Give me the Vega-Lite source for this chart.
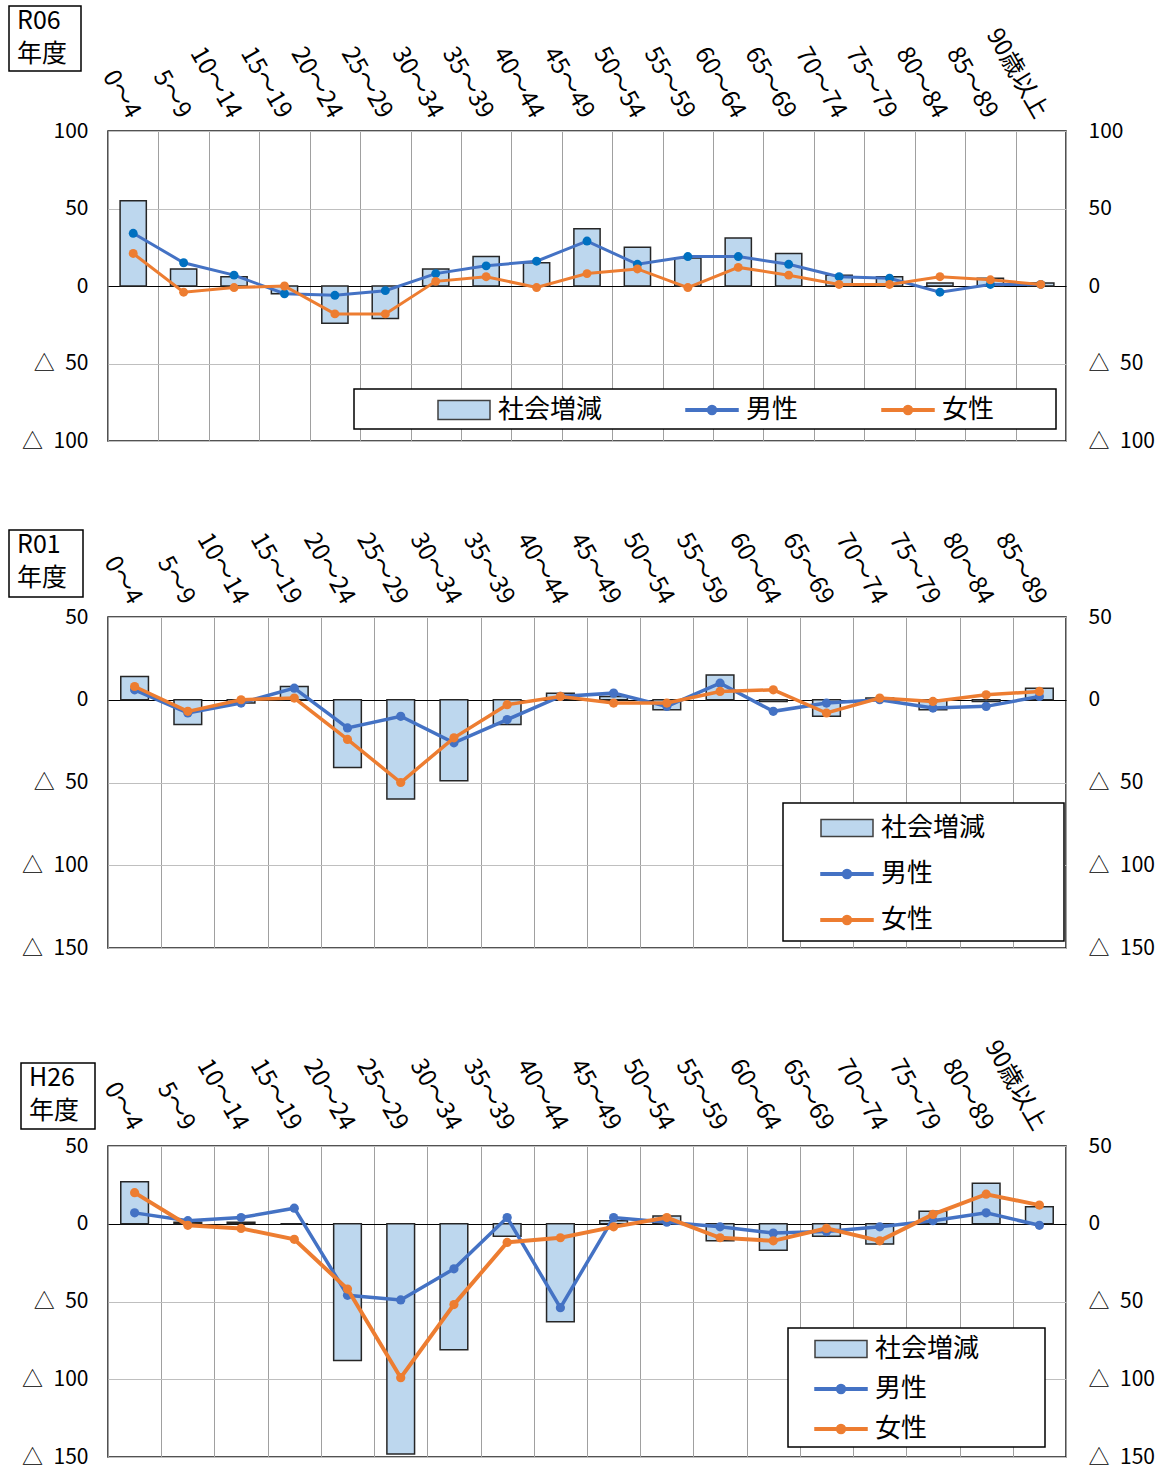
{
  "$schema": "https://vega.github.io/schema/vega-lite/v6.json",
  "padding": {"left": 8, "top": 5, "right": 8, "bottom": 2},
  "background": "white",
  "config": {
    "font": "Noto Sans CJK JP",
    "view": {"stroke": "#1a1a1a", "strokeWidth": 1.5},
    "axis": {"labelColor": "#000", "labelFontSize": 21, "ticks": false, "domain": false, "title": null},
    "legend": {"labelColor": "#000", "labelFontSize": 26, "titleColor": "#000", "titleFontWeight": "normal"}
  },
  "data": {"values": [
    {"panel": "R06", "age": "0～4", "total": 55, "male": 34, "female": 21},
    {"panel": "R06", "age": "5～9", "total": 11, "male": 15, "female": -4},
    {"panel": "R06", "age": "10～14", "total": 6, "male": 7, "female": -1},
    {"panel": "R06", "age": "15～19", "total": -5, "male": -5, "female": 0},
    {"panel": "R06", "age": "20～24", "total": -24, "male": -6, "female": -18},
    {"panel": "R06", "age": "25～29", "total": -21, "male": -3, "female": -18},
    {"panel": "R06", "age": "30～34", "total": 11, "male": 8, "female": 3},
    {"panel": "R06", "age": "35～39", "total": 19, "male": 13, "female": 6},
    {"panel": "R06", "age": "40～44", "total": 15, "male": 16, "female": -1},
    {"panel": "R06", "age": "45～49", "total": 37, "male": 29, "female": 8},
    {"panel": "R06", "age": "50～54", "total": 25, "male": 14, "female": 11},
    {"panel": "R06", "age": "55～59", "total": 18, "male": 19, "female": -1},
    {"panel": "R06", "age": "60～64", "total": 31, "male": 19, "female": 12},
    {"panel": "R06", "age": "65～69", "total": 21, "male": 14, "female": 7},
    {"panel": "R06", "age": "70～74", "total": 7, "male": 6, "female": 1},
    {"panel": "R06", "age": "75～79", "total": 6, "male": 5, "female": 1},
    {"panel": "R06", "age": "80～84", "total": 2, "male": -4, "female": 6},
    {"panel": "R06", "age": "85～89", "total": 5, "male": 1, "female": 4},
    {"panel": "R06", "age": "90歳以上", "total": 2, "male": 1, "female": 1},
    {"panel": "R01", "age": "0～4", "total": 14, "male": 6, "female": 8},
    {"panel": "R01", "age": "5～9", "total": -15, "male": -8, "female": -7},
    {"panel": "R01", "age": "10～14", "total": -2, "male": -2, "female": 0},
    {"panel": "R01", "age": "15～19", "total": 8, "male": 7, "female": 1},
    {"panel": "R01", "age": "20～24", "total": -41, "male": -17, "female": -24},
    {"panel": "R01", "age": "25～29", "total": -60, "male": -10, "female": -50},
    {"panel": "R01", "age": "30～34", "total": -49, "male": -26, "female": -23},
    {"panel": "R01", "age": "35～39", "total": -15, "male": -12, "female": -3},
    {"panel": "R01", "age": "40～44", "total": 4, "male": 2, "female": 2},
    {"panel": "R01", "age": "45～49", "total": 2, "male": 4, "female": -2},
    {"panel": "R01", "age": "50～54", "total": -6, "male": -4, "female": -2},
    {"panel": "R01", "age": "55～59", "total": 15, "male": 10, "female": 5},
    {"panel": "R01", "age": "60～64", "total": -1, "male": -7, "female": 6},
    {"panel": "R01", "age": "65～69", "total": -10, "male": -2, "female": -8},
    {"panel": "R01", "age": "70～74", "total": 1, "male": 0, "female": 1},
    {"panel": "R01", "age": "75～79", "total": -6, "male": -5, "female": -1},
    {"panel": "R01", "age": "80～84", "total": -1, "male": -4, "female": 3},
    {"panel": "R01", "age": "85～89", "total": 7, "male": 2, "female": 5},
    {"panel": "H26", "age": "0～4", "total": 27, "male": 7, "female": 20},
    {"panel": "H26", "age": "5～9", "total": 1, "male": 2, "female": -1},
    {"panel": "H26", "age": "10～14", "total": 1, "male": 4, "female": -3},
    {"panel": "H26", "age": "15～19", "total": 0, "male": 10, "female": -10},
    {"panel": "H26", "age": "20～24", "total": -88, "male": -46, "female": -42},
    {"panel": "H26", "age": "25～29", "total": -148, "male": -49, "female": -99},
    {"panel": "H26", "age": "30～34", "total": -81, "male": -29, "female": -52},
    {"panel": "H26", "age": "35～39", "total": -8, "male": 4, "female": -12},
    {"panel": "H26", "age": "40～44", "total": -63, "male": -54, "female": -9},
    {"panel": "H26", "age": "45～49", "total": 2, "male": 4, "female": -2},
    {"panel": "H26", "age": "50～54", "total": 5, "male": 1, "female": 4},
    {"panel": "H26", "age": "55～59", "total": -11, "male": -2, "female": -9},
    {"panel": "H26", "age": "60～64", "total": -17, "male": -6, "female": -11},
    {"panel": "H26", "age": "65～69", "total": -8, "male": -5, "female": -3},
    {"panel": "H26", "age": "70～74", "total": -13, "male": -2, "female": -11},
    {"panel": "H26", "age": "75～79", "total": 8, "male": 2, "female": 6},
    {"panel": "H26", "age": "80～89", "total": 26, "male": 7, "female": 19},
    {"panel": "H26", "age": "90歳以上", "total": 11, "male": -1, "female": 12}
  ]},
  "spacing": 76,
  "resolve": {
    "scale": {"color": "independent", "shape": "independent", "stroke": "independent", "opacity": "independent", "size": "independent", "strokeWidth": "independent"},
    "legend": {"color": "independent", "shape": "independent", "stroke": "independent", "opacity": "independent", "size": "independent", "strokeWidth": "independent"}
  },
  "vconcat": [
    {
      "width": 958, "height": 310,
      "transform": [{"filter": "datum.panel == 'R06'"}],
      "encoding": {"x": {"field": "age", "type": "nominal", "sort": null,
        "scale": {"paddingInner": 0, "paddingOuter": 0},
        "axis": {"orient": "top", "labelAngle": 60, "labelAlign": "right", "labelBaseline": "middle", "labelPadding": 15, "labelFontSize": 24, "labelOverlap": false, "labelBound": false, "tickBand": "extent", "grid": true, "gridColor": "#A0A0A0", "gridWidth": 1}}},
      "layer": [
        {"mark": {"type": "bar", "fill": "#BDD7EE", "stroke": "#262626", "strokeWidth": 1.5, "width": {"band": 0.52}},
         "encoding": {"y": {"field": "total", "type": "quantitative", "scale": {"domain": [-100, 100], "nice": false},
           "axis": {"orient": "left", "values": [-100, -50, 0, 50, 100], "grid": true,
             "gridColor": {"condition": {"test": "datum.value === 0", "value": "#000"}, "value": "#BFBFBF"},
             "gridWidth": 1,
             "labelPadding": 20, "labelExpr": "datum.value < 0 ? '△\u2002' + (-datum.value) : '' + datum.value"}}}},
        {"mark": {"type": "line", "color": "#4472C4", "strokeWidth": 3, "point": {"filled": true, "size": 80, "color": "#0070C0", "opacity": 1}},
         "encoding": {"y": {"field": "male", "type": "quantitative", "scale": {"domain": [-100, 100], "nice": false},
           "axis": {"orient": "right", "values": [-100, -50, 0, 50, 100], "grid": false, "labelPadding": 22,
             "labelExpr": "datum.value < 0 ? '△\u2002' + (-datum.value) : '' + datum.value"}}}},
        {"mark": {"type": "line", "color": "#ED7D31", "strokeWidth": 3, "point": {"filled": true, "size": 80, "color": "#ED7D31", "opacity": 1}},
         "encoding": {"y": {"field": "female", "type": "quantitative", "scale": {"domain": [-100, 100], "nice": false}, "axis": null}}},
        {"transform": [{"filter": "datum.panel == 'none'"}],
         "mark": {"type": "point", "filled": true, "opacity": 1},
         "encoding": {
           "color": {"field": "series", "type": "nominal",
             "scale": {"domain": ["社会増減", "男性", "女性"], "range": ["#BDD7EE", "#4472C4", "#ED7D31"]},
             "legend": {"title": null, "orient": "none", "legendX": 327, "legendY": 266, "direction": "horizontal", "columnPadding": 80,
               "padding": 0, "zindex": 2,
               "symbolSize": 400, "symbolStrokeWidth": 1.5, "labelOffset": 37, "labelFontSize": 26}},
           "stroke": {"field": "series", "type": "nominal",
             "scale": {"domain": ["社会増減", "男性", "女性"], "range": ["#404040", "#4472C4", "#ED7D31"]}},
           "shape": {"field": "series", "type": "nominal",
             "scale": {"domain": ["社会増減", "男性", "女性"], "range": ["M-1,-0.95H4.2V0.95H-1Z", "M-1,-0.12H4.2V0.12H-1Z M2.05,0A0.45,0.45 0 1,1 1.15,0A0.45,0.45 0 1,1 2.05,0Z", "M-1,-0.12H4.2V0.12H-1Z M2.05,0A0.45,0.45 0 1,1 1.15,0A0.45,0.45 0 1,1 2.05,0Z"]}},
           "size": {"field": "panel", "type": "nominal", "scale": {"domain": ["frame"], "range": [400, 400]},
             "legend": {"title": null, "orient": "none", "legendX": 246, "legendY": 258, "padding": 0, "zindex": 1,
               "symbolType": "M-1.1,-1.1H69.1V2.9H-1.1Z", "symbolStrokeWidth": 1.5, "symbolFillColor": "white", "symbolStrokeColor": "#000",
               "labelExpr": "''", "labelFontSize": 1}},
           "strokeWidth": {"field": "panel", "type": "nominal", "scale": {"domain": ["box"], "range": [1.5, 1.5]},
             "legend": {"title": null, "orient": "none", "legendX": -99, "legendY": -125, "padding": 0, "zindex": 1,
               "symbolSize": 400, "symbolType": "M-1.1,-1.1H6.1V5.4H-1.1Z", "symbolFillColor": "white", "symbolStrokeColor": "#000",
               "labelExpr": "''", "labelFontSize": 1}},
           "opacity": {"field": "panel", "type": "nominal", "scale": {"domain": ["title"], "range": [0, 0]},
             "legend": {"title": ["R06", "年度"], "titleFontSize": 25, "titleLineHeight": 33, "titlePadding": 0,
               "orient": "none", "legendX": -91, "legendY": -122, "padding": 0, "zindex": 2,
               "symbolSize": 0, "symbolStrokeWidth": 0, "labelExpr": "''", "labelFontSize": 1, "rowPadding": 0}}
         }}
      ],
      "resolve": {"scale": {"y": "independent"}}
    },
    {
      "width": 958, "height": 331,
      "transform": [{"filter": "datum.panel == 'R01'"}],
      "encoding": {"x": {"field": "age", "type": "nominal", "sort": null,
        "scale": {"paddingInner": 0, "paddingOuter": 0},
        "axis": {"orient": "top", "labelAngle": 60, "labelAlign": "right", "labelBaseline": "middle", "labelPadding": 15, "labelFontSize": 24, "labelOverlap": false, "labelBound": false, "tickBand": "extent", "grid": true, "gridColor": "#A0A0A0", "gridWidth": 1}}},
      "layer": [
        {"mark": {"type": "bar", "fill": "#BDD7EE", "stroke": "#262626", "strokeWidth": 1.5, "width": {"band": 0.52}},
         "encoding": {"y": {"field": "total", "type": "quantitative", "scale": {"domain": [-150, 50], "nice": false},
           "axis": {"orient": "left", "values": [-150, -100, -50, 0, 50], "grid": true,
             "gridColor": {"condition": {"test": "datum.value === 0", "value": "#000"}, "value": "#BFBFBF"},
             "gridWidth": 1,
             "labelPadding": 20, "labelExpr": "datum.value < 0 ? '△\u2002' + (-datum.value) : '' + datum.value"}}}},
        {"mark": {"type": "line", "color": "#4472C4", "strokeWidth": 3.5, "point": {"filled": true, "size": 85, "color": "#4472C4", "opacity": 1}},
         "encoding": {"y": {"field": "male", "type": "quantitative", "scale": {"domain": [-150, 50], "nice": false},
           "axis": {"orient": "right", "values": [-150, -100, -50, 0, 50], "grid": false, "labelPadding": 22,
             "labelExpr": "datum.value < 0 ? '△\u2002' + (-datum.value) : '' + datum.value"}}}},
        {"mark": {"type": "line", "color": "#ED7D31", "strokeWidth": 3.5, "point": {"filled": true, "size": 85, "color": "#ED7D31", "opacity": 1}},
         "encoding": {"y": {"field": "female", "type": "quantitative", "scale": {"domain": [-150, 50], "nice": false}, "axis": null}}},
        {"transform": [{"filter": "datum.panel == 'none'"}],
         "mark": {"type": "point", "filled": true, "opacity": 1},
         "encoding": {
           "color": {"field": "series", "type": "nominal",
             "scale": {"domain": ["社会増減", "男性", "女性"], "range": ["#BDD7EE", "#4472C4", "#ED7D31"]},
             "legend": {"title": null, "orient": "none", "legendX": 710, "legendY": 198, "direction": "vertical", "rowPadding": 20,
               "padding": 0, "zindex": 2,
               "symbolSize": 400, "symbolStrokeWidth": 1.5, "labelOffset": 37, "labelFontSize": 26}},
           "stroke": {"field": "series", "type": "nominal",
             "scale": {"domain": ["社会増減", "男性", "女性"], "range": ["#404040", "#4472C4", "#ED7D31"]}},
           "shape": {"field": "series", "type": "nominal",
             "scale": {"domain": ["社会増減", "男性", "女性"], "range": ["M-1,-0.85H4.2V0.85H-1Z", "M-1,-0.12H4.2V0.12H-1Z M2.05,0A0.45,0.45 0 1,1 1.15,0A0.45,0.45 0 1,1 2.05,0Z", "M-1,-0.12H4.2V0.12H-1Z M2.05,0A0.45,0.45 0 1,1 1.15,0A0.45,0.45 0 1,1 2.05,0Z"]}},
           "size": {"field": "panel", "type": "nominal", "scale": {"domain": ["frame"], "range": [400, 400]},
             "legend": {"title": null, "orient": "none", "legendX": 675, "legendY": 186, "padding": 0, "zindex": 1,
               "symbolType": "M-1.1,-1.1H27V12.7H-1.1Z", "symbolStrokeWidth": 1.5, "symbolFillColor": "white", "symbolStrokeColor": "#000",
               "labelExpr": "''", "labelFontSize": 1}},
           "strokeWidth": {"field": "panel", "type": "nominal", "scale": {"domain": ["box"], "range": [1.5, 1.5]},
             "legend": {"title": null, "orient": "none", "legendX": -99, "legendY": -87, "padding": 0, "zindex": 1,
               "symbolSize": 400, "symbolType": "M-1.1,-1.1H6.3V5.6H-1.1Z", "symbolFillColor": "white", "symbolStrokeColor": "#000",
               "labelExpr": "''", "labelFontSize": 1}},
           "opacity": {"field": "panel", "type": "nominal", "scale": {"domain": ["title"], "range": [0, 0]},
             "legend": {"title": ["R01", "年度"], "titleFontSize": 25, "titleLineHeight": 33, "titlePadding": 0,
               "orient": "none", "legendX": -91, "legendY": -84, "padding": 0, "zindex": 2,
               "symbolSize": 0, "symbolStrokeWidth": 0, "labelExpr": "''", "labelFontSize": 1, "rowPadding": 0}}
         }}
      ],
      "resolve": {"scale": {"y": "independent"}}
    },
    {
      "width": 958, "height": 311,
      "transform": [{"filter": "datum.panel == 'H26'"}],
      "encoding": {"x": {"field": "age", "type": "nominal", "sort": null,
        "scale": {"paddingInner": 0, "paddingOuter": 0},
        "axis": {"orient": "top", "labelAngle": 60, "labelAlign": "right", "labelBaseline": "middle", "labelPadding": 18, "labelFontSize": 24, "labelOverlap": false, "labelBound": false, "tickBand": "extent", "grid": true, "gridColor": "#A0A0A0", "gridWidth": 1}}},
      "layer": [
        {"mark": {"type": "bar", "fill": "#BDD7EE", "stroke": "#262626", "strokeWidth": 1.5, "width": {"band": 0.52}},
         "encoding": {"y": {"field": "total", "type": "quantitative", "scale": {"domain": [-150, 50], "nice": false},
           "axis": {"orient": "left", "values": [-150, -100, -50, 0, 50], "grid": true,
             "gridColor": {"condition": {"test": "datum.value === 0", "value": "#000"}, "value": "#BFBFBF"},
             "gridWidth": 1,
             "labelPadding": 20, "labelExpr": "datum.value < 0 ? '△\u2002' + (-datum.value) : '' + datum.value"}}}},
        {"mark": {"type": "line", "color": "#4472C4", "strokeWidth": 3.5, "point": {"filled": true, "size": 85, "color": "#4472C4", "opacity": 1}},
         "encoding": {"y": {"field": "male", "type": "quantitative", "scale": {"domain": [-150, 50], "nice": false},
           "axis": {"orient": "right", "values": [-150, -100, -50, 0, 50], "grid": false, "labelPadding": 22,
             "labelExpr": "datum.value < 0 ? '△\u2002' + (-datum.value) : '' + datum.value"}}}},
        {"mark": {"type": "line", "color": "#ED7D31", "strokeWidth": 4, "point": {"filled": true, "size": 85, "color": "#ED7D31", "opacity": 1}},
         "encoding": {"y": {"field": "female", "type": "quantitative", "scale": {"domain": [-150, 50], "nice": false}, "axis": null}}},
        {"transform": [{"filter": "datum.panel == 'none'"}],
         "mark": {"type": "point", "filled": true, "opacity": 1},
         "encoding": {
           "color": {"field": "series", "type": "nominal",
             "scale": {"domain": ["社会増減", "男性", "女性"], "range": ["#BDD7EE", "#4472C4", "#ED7D31"]},
             "legend": {"title": null, "orient": "none", "legendX": 704, "legendY": 190, "direction": "vertical", "rowPadding": 14,
               "padding": 0, "zindex": 2,
               "symbolSize": 400, "symbolStrokeWidth": 1.5, "labelOffset": 37, "labelFontSize": 26}},
           "stroke": {"field": "series", "type": "nominal",
             "scale": {"domain": ["社会増減", "男性", "女性"], "range": ["#404040", "#4472C4", "#ED7D31"]}},
           "shape": {"field": "series", "type": "nominal",
             "scale": {"domain": ["社会増減", "男性", "女性"], "range": ["M-1,-0.85H4.2V0.85H-1Z", "M-1,-0.12H4.2V0.12H-1Z M2.05,0A0.45,0.45 0 1,1 1.15,0A0.45,0.45 0 1,1 2.05,0Z", "M-1,-0.12H4.2V0.12H-1Z M2.05,0A0.45,0.45 0 1,1 1.15,0A0.45,0.45 0 1,1 2.05,0Z"]}},
           "size": {"field": "panel", "type": "nominal", "scale": {"domain": ["frame"], "range": [400, 400]},
             "legend": {"title": null, "orient": "none", "legendX": 680, "legendY": 182, "padding": 0, "zindex": 1,
               "symbolType": "M-1.1,-1.1H24.6V10.8H-1.1Z", "symbolStrokeWidth": 1.5, "symbolFillColor": "white", "symbolStrokeColor": "#000",
               "labelExpr": "''", "labelFontSize": 1}},
           "strokeWidth": {"field": "panel", "type": "nominal", "scale": {"domain": ["box"], "range": [1.5, 1.5]},
             "legend": {"title": null, "orient": "none", "legendX": -87, "legendY": -83, "padding": 0, "zindex": 1,
               "symbolSize": 400, "symbolType": "M-1.1,-1.1H6.3V5.5H-1.1Z", "symbolFillColor": "white", "symbolStrokeColor": "#000",
               "labelExpr": "''", "labelFontSize": 1}},
           "opacity": {"field": "panel", "type": "nominal", "scale": {"domain": ["title"], "range": [0, 0]},
             "legend": {"title": ["H26", "年度"], "titleFontSize": 25, "titleLineHeight": 33, "titlePadding": 0,
               "orient": "none", "legendX": -79, "legendY": -80, "padding": 0, "zindex": 2,
               "symbolSize": 0, "symbolStrokeWidth": 0, "labelExpr": "''", "labelFontSize": 1, "rowPadding": 0}}
         }}
      ],
      "resolve": {"scale": {"y": "independent"}}
    }
  ]
}
